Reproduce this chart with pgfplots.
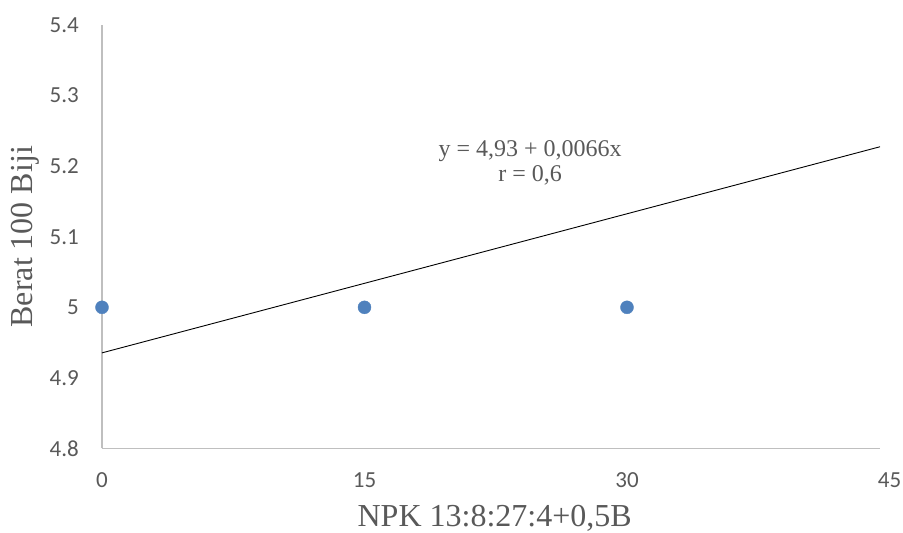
\documentclass[border=0pt]{standalone}
\usepackage{fontspec}
\setmainfont{Liberation Serif}
\newfontfamily\carlito{Carlito}
\usepackage{pgfplots}
\pgfplotsset{compat=1.18}
\definecolor{txtgray}{RGB}{89,89,89}
\definecolor{axgray}{RGB}{191,191,191}
\definecolor{ptblue}{RGB}{79,129,189}
\begin{document}
\begin{tikzpicture}
\useasboundingbox (0,0) rectangle (903pt,533pt);
\begin{axis}[
  at={(102pt,84.5pt)}, anchor=south west,
  scale only axis, width=787.5pt, height=423.5pt,
  xmin=0, xmax=45, ymin=4.8, ymax=5.4,
  xtick={0,15,30,45},
  ytick={4.8,4.9,5.0,5.1,5.2,5.3,5.4},
  yticklabels={4.8,4.9,5,5.1,5.2,5.3,5.4},
  axis x line=bottom, axis y line=left,
  axis line style={-, draw=axgray, line width=1.5pt},
  x axis line style={draw=none},
  major tick length=0pt,
  /pgf/number format/assume math mode=true,
  ticklabel style={font=\carlito\fontsize{23}{23}\selectfont, text=txtgray, inner sep=0pt},
  xticklabel style={anchor=center, yshift=-32pt},
  yticklabel style={anchor=east, xshift=-23pt},
  xlabel={NPK 13:8:27:4+0,5B},
  ylabel={Berat 100 Biji},
  label style={font=\fontsize{32}{32}\selectfont, text=txtgray},
  xlabel style={at={(axis description cs:0.4986,-0.1853)}, anchor=base},
  ylabel style={at={(axis description cs:-0.098,0.5)}, anchor=center},
  clip=false,
]
\draw[axgray, line width=1.5pt] (axis cs:0,4.8) -- (axis cs:44.457,4.8);
\addplot[black, line width=0.9pt, no marks] coordinates {(0,4.9355) (44.457,5.2275)};
\addplot[only marks, mark=*, mark size=6.5pt, mark options={fill=ptblue, draw=ptblue}] coordinates {(0,5) (15,5) (30,5)};
\node[align=center, text=txtgray, font=\fontsize{24}{25}\selectfont] at (axis cs:24.46,5.205) {y = 4,93 + 0,0066x\\r = 0,6};
\end{axis}
\end{tikzpicture}
\end{document}
